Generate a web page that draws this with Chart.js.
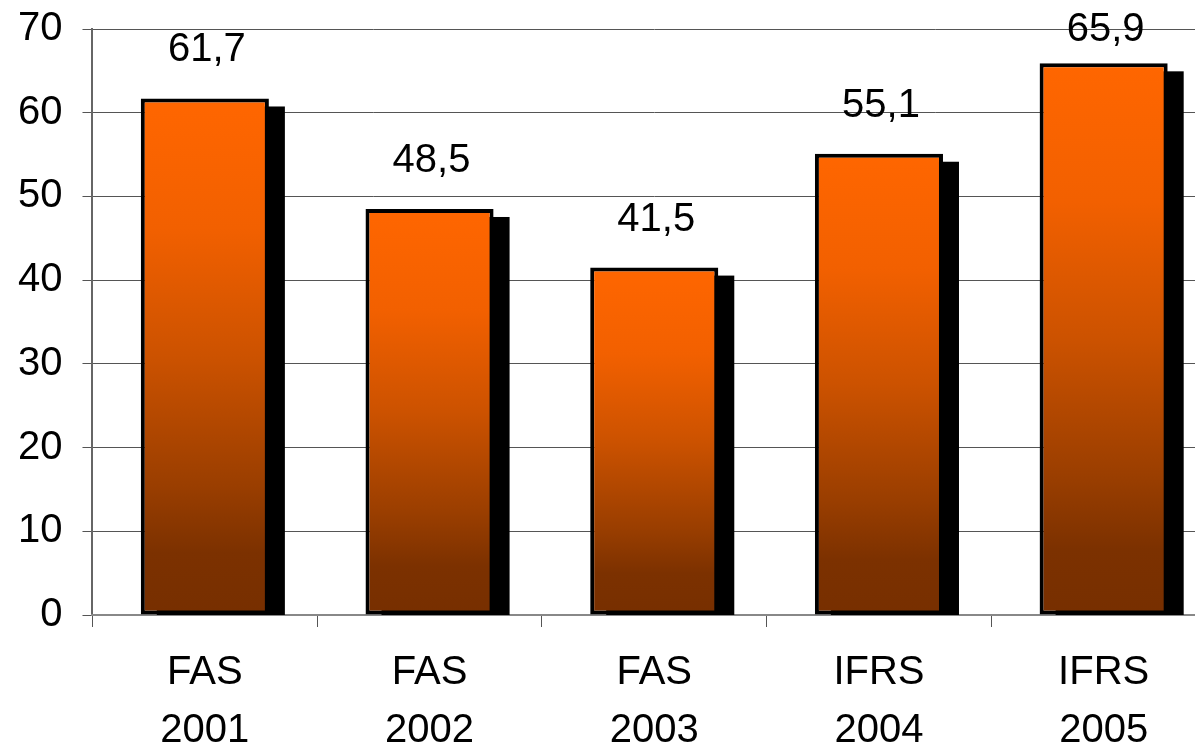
<!DOCTYPE html>
<html>
<head>
<meta charset="utf-8">
<script src="https://cdn.jsdelivr.net/npm/chart.js@4"></script>
<style>
  html, body { margin: 0; padding: 0; background: #fff; overflow: hidden; }
  canvas { display: block; margin-top: -15px; }
</style>
</head>
<body>
<canvas id="barChart" width="1220" height="764"></canvas>
<script>
const categories = [["FAS", "2001"], ["FAS", "2002"], ["FAS", "2003"], ["IFRS", "2004"], ["IFRS", "2005"]];
const values = [61.7, 48.5, 41.5, 55.1, 65.9];
const yTicks = [0, 10, 20, 30, 40, 50, 60, 70];

const font = "'Liberation Sans', Arial, sans-serif";

// black drop shadow to the right of every bar + value labels on top
const shadowPlugin = {
  id: 'shadow',
  beforeDatasetsDraw(chart) {
    const ctx = chart.ctx;
    const base = chart.scales.y.getPixelForValue(0);
    ctx.save();
    ctx.fillStyle = '#000';
    chart.getDatasetMeta(0).data.forEach(bar => {
      const w = bar.width;
      ctx.fillRect(bar.x - w / 2 + 16, bar.y + 8, w, base - bar.y - 8);
    });
    ctx.restore();
  },
  afterDatasetsDraw(chart) {
    const ctx = chart.ctx;
    ctx.save();
    ctx.fillStyle = '#000';
    ctx.font = '40px ' + font;
    ctx.textAlign = 'center';
    ctx.textBaseline = 'alphabetic';
    chart.getDatasetMeta(0).data.forEach((bar, i) => {
      // keep the top label inside the picture
      const yText = Math.max(bar.y - 37, 56);
      ctx.fillText(values[i].toFixed(1).replace('.', ','), bar.x + 2, yText);
    });
    ctx.restore();
  }
};

const ctx = document.getElementById('barChart').getContext('2d');
let barChart = new Chart(ctx, {
  type: 'bar',
  data: {
    labels: categories,
    datasets: [{
      data: values,
      backgroundColor(c) {
        const chart = c.chart;
        if (!chart.chartArea || c.dataIndex === undefined) return '#ff6600';
        const y = chart.scales.y;
        const top = y.getPixelForValue(values[c.dataIndex]);
        const bottom = y.getPixelForValue(0);
        const g = chart.ctx.createLinearGradient(0, top, 0, bottom);
        g.addColorStop(0, '#ff6600');
        g.addColorStop(0.25, '#f26000');
        g.addColorStop(0.5, '#cc5200');
        g.addColorStop(0.75, '#9a3e00');
        g.addColorStop(0.88, '#7c3100');
        g.addColorStop(1, '#772f00');
        return g;
      },
      borderColor: '#000',
      borderWidth: 4,
      borderSkipped: false,
      categoryPercentage: 1,
      barPercentage: 0.57
    }]
  },
  options: {
    responsive: false,
    animation: false,
    layout: { padding: { left: -2, top: 0, right: 4, bottom: -28 } },
    plugins: {
      legend: { display: false },
      tooltip: { enabled: false }
    },
    scales: {
      y: {
        min: 0,
        max: 70,
        afterBuildTicks(axis) { axis.ticks = yTicks.map(v => ({ value: v })); },
        border: { color: '#666', width: 2 },
        grid: { color: '#555', lineWidth: 1, tickLength: 10 },
        ticks: { color: '#000', font: { family: font, size: 40 }, padding: 20 }
      },
      x: {
        border: { color: '#888', width: 2 },
        grid: { offset: true, drawOnChartArea: false, color: '#555', tickLength: 12 },
        ticks: { color: '#000', font: { family: font, size: 40, lineHeight: 1.45 }, padding: 17, maxRotation: 0 }
      }
    }
  },
  plugins: [shadowPlugin]
});
</script>
</body>
</html>
